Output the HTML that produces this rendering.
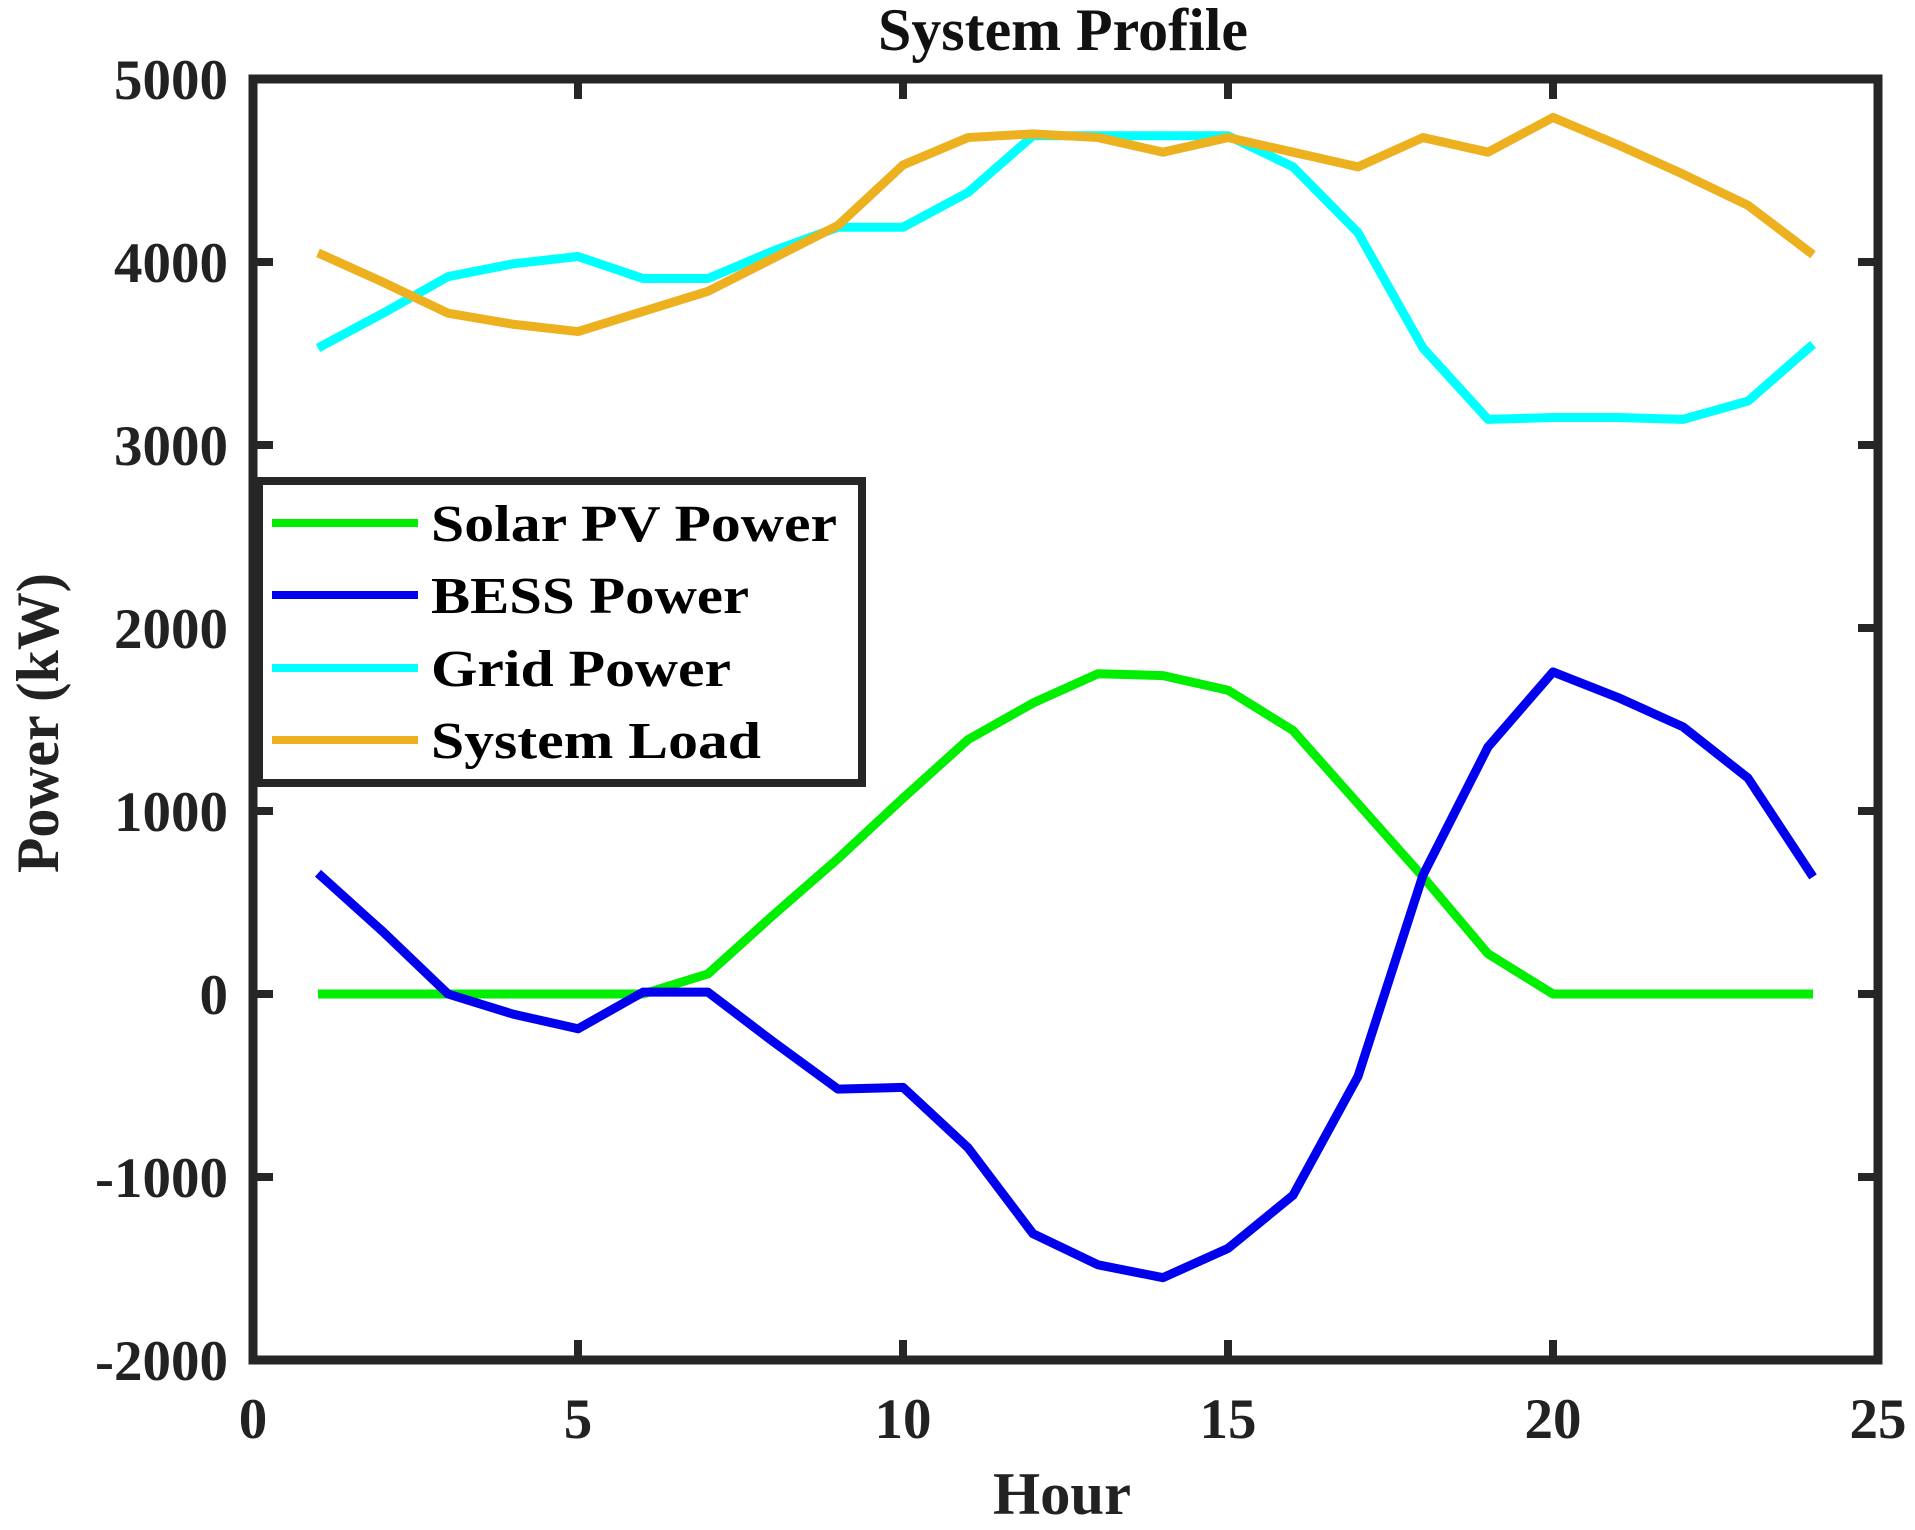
<!DOCTYPE html>
<html><head><meta charset="utf-8"><style>
html,body{margin:0;padding:0;background:#fff;}
svg{display:block;font-family:"Liberation Serif",serif;font-weight:bold;}
</style></head><body>
<svg id="chart" width="1915" height="1530" viewBox="0 0 1915 1530" xmlns="http://www.w3.org/2000/svg">
<text x="1063" y="50" font-size="60" text-anchor="middle" fill="#111" textLength="370" lengthAdjust="spacingAndGlyphs">System Profile</text>
<text x="1062" y="1514" font-size="60" text-anchor="middle" fill="#222" textLength="138" lengthAdjust="spacingAndGlyphs">Hour</text>
<text transform="translate(58,723) rotate(-90)" font-size="60" text-anchor="middle" fill="#222" textLength="300" lengthAdjust="spacingAndGlyphs">Power (kW)</text>
<g id="ticks"></g>
<g id="series"></g>
<rect x="253" y="79" width="1625" height="1281" fill="none" stroke="#262626" stroke-width="9"/>
<g>
<rect x="259" y="481" width="603" height="302" fill="#fff" stroke="#262626" stroke-width="8"/>
<line x1="272" y1="523" x2="418" y2="523" stroke="#00ee00" stroke-width="8"/>
<text x="431" y="541" font-size="52" textLength="406" lengthAdjust="spacingAndGlyphs">Solar PV Power</text>
<line x1="272" y1="595" x2="418" y2="595" stroke="#0000ee" stroke-width="8"/>
<text x="431" y="613" font-size="52" textLength="318" lengthAdjust="spacingAndGlyphs">BESS Power</text>
<line x1="272" y1="668" x2="418" y2="668" stroke="#00ffff" stroke-width="8"/>
<text x="431" y="686" font-size="52" textLength="300" lengthAdjust="spacingAndGlyphs">Grid Power</text>
<line x1="272" y1="740" x2="418" y2="740" stroke="#edb120" stroke-width="8"/>
<text x="431" y="758" font-size="52" textLength="330" lengthAdjust="spacingAndGlyphs">System Load</text>
</g>
</svg>
<script>
const hours = [1,2,3,4,5,6,7,8,9,10,11,12,13,14,15,16,17,18,19,20,21,22,23,24];
const solarPV = [0,0,0,0,0,0,110,430,740,1070,1390,1590,1750,1740,1660,1440,1040,640,220,0,0,0,0,0];
const bess = [660,340,0,-110,-190,10,10,-260,-520,-510,-840,-1310,-1480,-1550,-1390,-1100,-450,650,1350,1760,1620,1460,1180,640];
const grid = [3530,3720,3920,3990,4030,3910,3910,4060,4190,4190,4380,4690,4690,4690,4690,4520,4160,3530,3140,3150,3150,3140,3240,3550];
const load = [4050,3890,3720,3660,3620,3730,3840,4020,4200,4530,4680,4700,4680,4600,4680,4600,4520,4680,4600,4790,4640,4480,4310,4040];
const xTicks = [0,5,10,15,20,25];
const yTicks = [-2000,-1000,0,1000,2000,3000,4000,5000];

const X0=253,X1=1878,Y0=79,Y1=1360;
function sx(v){return X0+(v-0)/(25-0)*(X1-X0);}
function sy(v){return Y1-(v-(-2000))/(5000-(-2000))*(Y1-Y0);}
const NS="http://www.w3.org/2000/svg";
const tg=document.getElementById('ticks');
xTicks.forEach(t=>{
  const x=sx(t);
  [[Y1,Y1-20],[Y0,Y0+20]].forEach(([a,b])=>{
    const l=document.createElementNS(NS,'line');
    l.setAttribute('x1',x);l.setAttribute('x2',x);l.setAttribute('y1',a);l.setAttribute('y2',b);
    l.setAttribute('stroke','#262626');l.setAttribute('stroke-width','8');
    
    
    tg.appendChild(l);
  });
  const tx=document.createElementNS(NS,'text');
  tx.setAttribute('x',x);tx.setAttribute('y',1438);tx.setAttribute('font-size','57');
  tx.setAttribute('text-anchor','middle');tx.setAttribute('fill','#222');
  tx.textContent=t;
  
  
  tg.appendChild(tx);
});
yTicks.forEach(t=>{
  const y=sy(t);
  [[X0,X0+20],[X1,X1-20]].forEach(([a,b])=>{
    const l=document.createElementNS(NS,'line');
    l.setAttribute('x1',a);l.setAttribute('x2',b);l.setAttribute('y1',y);l.setAttribute('y2',y);
    l.setAttribute('stroke','#262626');l.setAttribute('stroke-width','8');
    
    
    tg.appendChild(l);
  });
  const tx=document.createElementNS(NS,'text');
  tx.setAttribute('x',228);tx.setAttribute('y',y+20);tx.setAttribute('font-size','57');
  tx.setAttribute('text-anchor','end');tx.setAttribute('fill','#222');
  tx.textContent=t;
  
  
  tg.appendChild(tx);
});
const sg=document.getElementById('series');
function addLine(vals,color,name){
  const p=document.createElementNS(NS,'polyline');
  p.setAttribute('points',vals.map((v,i)=>sx(hours[i])+','+sy(v)).join(' '));
  p.setAttribute('fill','none');p.setAttribute('stroke',color);p.setAttribute('stroke-width','9');
  p.setAttribute('stroke-linejoin','round');
  
  
  sg.appendChild(p);
}
addLine(solarPV,'#00ee00','solar-pv-power-line');
addLine(bess,'#0000ee','bess-power-line');
addLine(grid,'#00ffff','grid-power-line');
addLine(load,'#edb120','system-load-line');
</script>
</body></html>
